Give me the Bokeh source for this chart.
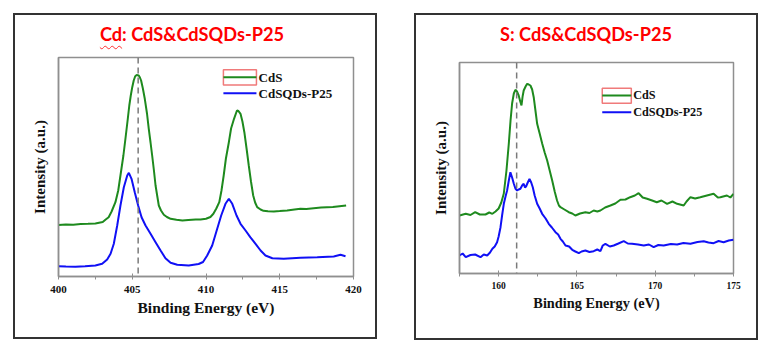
from bokeh.plotting import figure
from bokeh.layouts import row, column
from bokeh.models import Range1d, FixedTicker, Span, Div
from bokeh.core.properties import value
from bokeh.embed import file_html
from bokeh.resources import INLINE

# ---------------- Cd 3d panel data ----------------
cd_energy_cds = [400.0, 400.5, 401.0, 401.5, 402.0, 402.5, 403.0, 403.2, 403.4, 403.6, 403.86, 404.05,
                 404.2, 404.4, 404.54, 404.7, 404.8, 404.9, 405.0, 405.1, 405.2, 405.3, 405.44, 405.52,
                 405.6, 405.72, 405.85, 406.0, 406.12, 406.24, 406.35, 406.47, 406.58, 406.7, 406.8,
                 406.95, 407.14, 407.35, 407.6, 408.0, 408.4, 408.8, 409.3, 409.63, 410.0, 410.3, 410.5,
                 410.7, 410.9, 411.05, 411.2, 411.35, 411.55, 411.7, 411.9, 412.1, 412.2, 412.34, 412.47,
                 412.6, 412.75, 412.9, 413.05, 413.2, 413.33, 413.47, 413.7, 413.9, 414.2, 414.6, 415.0,
                 415.5, 416.0, 416.4, 416.8, 417.3, 417.8, 418.2, 418.6, 418.9, 419.2, 419.5]
cd_int_cds = [51.5, 52.0, 51.8, 52.5, 52.7, 53.0, 54.5, 57.0, 59.3, 65.0, 74.3, 86.0,
              101.0, 121.0, 138.0, 158.0, 171.0, 181.0, 189.3, 196.0, 200.3, 201.5, 201.0, 199.0,
              196.0, 188.0, 177.7, 163.0, 147.7, 134.0, 121.0, 106.0, 91.0, 80.0, 71.0,
              66.0, 61.7, 59.5, 57.7, 56.7, 56.0, 56.5, 57.0, 57.0, 57.7, 59.5, 62.7,
              68.0, 74.3, 86.0, 101.0, 118.0, 134.3, 148.0, 157.7, 166.0, 165.5, 162.7, 155.0,
              144.3, 128.0, 111.0, 95.0, 81.0, 74.0, 69.3, 67.0, 65.7, 65.2, 65.0, 65.4,
              66.0, 67.0, 67.7, 67.5, 68.3, 69.0, 69.3, 69.5, 70.0, 70.5, 71.0]

cd_energy_qd = [400.0, 400.5, 401.15, 401.8, 402.5, 402.96, 403.3, 403.53, 403.75, 403.98, 404.2, 404.43,
                404.66, 404.77, 404.95, 405.17, 405.4, 405.63, 405.9, 406.24, 406.58, 406.92, 407.25,
                407.6, 408.05, 408.83, 409.5, 409.8, 410.08, 410.42, 410.76, 411.03, 411.32, 411.55,
                411.78, 412.07, 412.34, 412.68, 413.0, 413.36, 413.7, 414.03, 414.5, 415.27, 416.4,
                417.54, 418.66, 419.12, 419.46]
cd_int_qd = [10.3, 10.0, 9.7, 10.3, 11.0, 12.7, 17.0, 22.7, 32.7, 51.0, 71.0, 89.3,
             101.0, 103.7, 97.7, 84.3, 71.0, 59.3, 51.0, 42.7, 34.3, 26.0, 18.3,
             13.7, 11.7, 11.0, 12.5, 14.5, 21.0, 31.0, 47.7, 61.0, 72.7, 77.7,
             72.7, 61.0, 52.7, 46.0, 39.3, 32.7, 26.0, 21.0, 18.3, 17.7, 18.7,
             19.3, 20.0, 21.7, 20.3]

cd_ticks = [400, 405, 410, 415, 420]
cd_minor_ticks = [402.5, 407.5, 412.5, 417.5]
cd_ref_energy = 405.4

# ---------------- S 2p panel data ----------------
s_energy_cds = [157.5, 157.9, 158.2, 158.5, 158.8, 159.16, 159.4, 159.6, 159.8, 160.0, 160.17, 160.33,
                160.5, 160.65, 160.76, 160.86, 160.97, 161.07, 161.17, 161.28, 161.38, 161.46, 161.53,
                161.6, 161.72, 161.82, 161.92, 162.03, 162.14, 162.24, 162.35, 162.46, 162.62, 162.78,
                162.94, 163.1, 163.26, 163.42, 163.58, 163.73, 163.85, 163.95, 164.2, 164.48, 164.7,
                164.9, 165.2, 165.54, 165.8, 166.07, 166.3, 166.5, 166.8, 167.14, 167.45, 167.78, 168.1,
                168.4, 168.7, 168.94, 169.2, 169.48, 169.8, 170.1, 170.4, 170.76, 171.1, 171.4, 171.82,
                172.0, 172.25, 172.55, 172.88, 173.3, 173.73, 174.0, 174.16, 174.58, 174.8, 175.0]
s_int_cds = [58.0, 59.7, 58.5, 61.3, 59.0, 59.0, 61.0, 59.7, 62.0, 65.0, 71.0, 80.0,
             103.0, 130.0, 153.0, 170.0, 180.0, 183.7, 182.0, 178.0, 172.0, 168.0, 177.0,
             183.0, 187.0, 189.7, 189.0, 188.0, 184.0, 176.3, 163.0, 149.7, 140.0, 130.0,
             121.0, 113.0, 103.0, 93.0, 82.0, 73.0, 68.0, 66.3, 64.0, 61.3, 60.0,
             58.0, 60.0, 61.3, 60.5, 63.0, 62.0, 63.0, 66.0, 68.0, 70.0, 73.7, 74.0,
             76.3, 78.0, 80.3, 76.0, 74.7, 73.0, 71.3, 73.0, 69.7, 72.0, 69.7, 68.0,
             72.0, 76.3, 75.0, 76.3, 78.0, 79.7, 76.0, 76.3, 78.0, 76.0, 79.7]

s_energy_qd = [157.5, 157.7, 157.9, 158.2, 158.5, 158.84, 159.05, 159.27, 159.45, 159.6, 159.75, 159.9,
               160.0, 160.12, 160.22, 160.33, 160.44, 160.54, 160.65, 160.75, 160.86, 160.97, 161.07,
               161.18, 161.28, 161.39, 161.5, 161.6, 161.68, 161.75, 161.86, 161.97, 162.08, 162.18,
               162.3, 162.46, 162.62, 162.78, 163.0, 163.2, 163.4, 163.63, 163.8, 163.95, 164.1,
               164.27, 164.5, 164.7, 164.9, 165.12, 165.3, 165.54, 165.8, 166.07, 166.3, 166.5,
               166.65, 166.82, 167.1, 167.35, 167.65, 167.99, 168.25, 168.52, 168.9, 169.27, 169.6,
               169.9, 170.2, 170.54, 171.0, 171.4, 171.8, 172.25, 172.7, 173.1, 173.4, 173.73,
               174.05, 174.37, 174.7, 175.0]
s_int_qd = [18.0, 20.0, 16.3, 18.5, 19.0, 16.3, 19.0, 18.0, 21.0, 24.7, 27.0, 31.3,
            37.0, 46.3, 58.0, 69.7, 77.0, 83.0, 93.0, 101.3, 96.0, 89.7, 85.0,
            83.0, 84.0, 84.7, 88.0, 89.7, 86.0, 87.0, 91.0, 94.7, 91.0, 86.3,
            78.0, 69.7, 65.0, 59.7, 55.0, 49.7, 46.0, 41.3, 39.0, 34.7, 32.0,
            28.0, 27.0, 23.7, 22.0, 20.3, 22.0, 23.0, 21.5, 22.3, 24.0, 22.3,
            28.0, 29.7, 27.0, 28.0, 30.0, 32.3, 30.0, 29.7, 29.0, 28.0, 29.0,
            26.3, 28.5, 28.0, 29.5, 29.0, 30.5, 29.7, 31.5, 32.3, 31.0, 30.3,
            32.5, 31.3, 33.0, 33.7]

s_ticks = [160, 165, 170, 175]
s_minor_ticks = [157.5, 162.5, 167.5, 172.5]
s_ref_energy = 161.15

series_names = ["CdS", "CdSQDs-P25"]
cd_title_html = ('<span style="text-decoration: underline wavy #ff3030; '
                 'text-decoration-thickness: 1px; text-underline-offset: 4px;">Cd</span>'
                 ': CdS&amp;CdSQDs-P25')
s_title_html = 'S: CdS&amp;CdSQDs-P25'

GREEN = "#1e8a1e"
BLUE = "#1010f5"
FRAME = "#8f8f8f"
SERIF = "Liberation Serif"
PANEL_STYLE = {"outline": "2px solid #333333", "outline-offset": "0px", "background-color": "white"}


def make_title(html, W, H, pad_right):
    return Div(text=html, width=W, height=H, margin=0,
               styles={"font-family": "Lato", "font-weight": "bold", "font-size": "18.2px",
                       "color": "#ff0000", "text-align": "center", "line-height": "38px",
                       "padding-right": f"{pad_right}px", "box-sizing": "border-box",
                       "white-space": "nowrap"})


def make_plot(xr, yr, ticks, minor, e1, i1, e2, i2, ref,
              W, H, bl, bt, fw, fh, tick_fs, tick_standoff, xlab_fs, ylab_fs, leg, leg_fs):
    p = figure(width=W, height=H, x_range=Range1d(*xr), y_range=Range1d(*yr),
               output_backend="svg", toolbar_location=None,
               min_border_left=bl, min_border_top=bt,
               min_border_right=W - bl - fw, min_border_bottom=H - bt - fh, margin=0)
    p.grid.visible = False
    p.background_fill_color = "white"
    p.border_fill_color = "white"
    p.outline_line_color = FRAME
    p.outline_line_width = 1.5

    # x axis
    xa = p.xaxis[0]
    xa.ticker = FixedTicker(ticks=ticks, minor_ticks=minor)
    xa.axis_label = "Binding Energy (eV)"
    xa.axis_label_text_font = SERIF
    xa.axis_label_text_font_style = "bold"
    xa.axis_label_text_font_size = f"{xlab_fs}px"
    xa.axis_label_text_color = "#111111"
    xa.axis_label_standoff = 3
    xa.major_label_text_font = SERIF
    xa.major_label_text_font_style = "bold"
    xa.major_label_text_font_size = f"{tick_fs}px"
    xa.major_label_text_color = "#111111"
    xa.major_label_standoff = tick_standoff
    xa.axis_line_color = FRAME
    xa.axis_line_width = 1.5
    xa.major_tick_line_color = FRAME
    xa.major_tick_in = 3
    xa.major_tick_out = 3
    xa.minor_tick_line_color = FRAME
    xa.minor_tick_in = 0
    xa.minor_tick_out = 3

    # y axis: label only
    ya = p.yaxis[0]
    ya.ticker = FixedTicker(ticks=[])
    ya.axis_label = "Intensity (a.u.)"
    ya.axis_label_text_font = SERIF
    ya.axis_label_text_font_style = "bold"
    ya.axis_label_text_font_size = f"{ylab_fs}px"
    ya.axis_label_text_color = "#111111"
    ya.axis_label_standoff = 11
    ya.major_tick_out = 0
    ya.major_tick_in = 0
    ya.minor_tick_out = 0
    ya.major_label_standoff = 0
    ya.axis_line_color = FRAME
    ya.axis_line_width = 1.5

    # curves
    p.line(e1, i1, line_color=GREEN, line_width=2)
    p.line(e2, i2, line_color=BLUE, line_width=2)

    # reference dashed line
    p.add_layout(Span(location=ref, dimension="height", line_color="#7a7a7a",
                      line_dash="6 4", line_width=1.5))

    # legend (positions as fractions of the frame)
    fx = lambda f: xr[0] + f * (xr[1] - xr[0])
    fy = lambda f: yr[0] + f * (yr[1] - yr[0])
    bx0, bx1, by_top, by_bot, gy, qy, lx = leg
    p.quad(left=[fx(bx0)], right=[fx(bx1)], top=[fy(by_top)], bottom=[fy(by_bot)],
           fill_color=None, line_color="#f07a7a", line_width=1.5)
    p.segment(x0=[fx(bx0)], x1=[fx(bx1)], y0=[fy(gy)], y1=[fy(gy)], line_color=GREEN, line_width=2)
    p.segment(x0=[fx(bx0)], x1=[fx(bx1)], y0=[fy(qy)], y1=[fy(qy)], line_color=BLUE, line_width=2)
    p.text(x=[fx(lx), fx(lx)], y=[fy(gy), fy(qy)], text=series_names,
           text_font=value(SERIF), text_font_style="bold", text_font_size=value(f"{leg_fs}px"),
           text_baseline="middle", text_align="left", text_color="#111111")
    return p


# left panel: box 360 x 322, title strip 40, plot 282
t1 = make_title(cd_title_html, 360, 40, 6)
p1 = make_plot((400, 420), (0, 219), cd_ticks, cd_minor_ticks,
               cd_energy_cds, cd_int_cds, cd_energy_qd, cd_int_qd, cd_ref_energy,
               W=360, H=282, bl=43, bt=2, fw=295, fh=219,
               tick_fs=11, tick_standoff=6, xlab_fs=15.5, ylab_fs=15,
               leg=(0.559, 0.671, 0.944, 0.875, 0.910, 0.837, 0.678), leg_fs=13)

# right panel: box 340 x 323, title strip 45, plot 278
t2 = make_title(s_title_html, 340, 45, 0)
p2 = make_plot((157.5, 175), (0, 211), s_ticks, s_minor_ticks,
               s_energy_cds, s_int_cds, s_energy_qd, s_int_qd, s_ref_energy,
               W=340, H=278, bl=43, bt=2, fw=274, fh=211,
               tick_fs=9.5, tick_standoff=5, xlab_fs=14.3, ylab_fs=15,
               leg=(0.521, 0.627, 0.878, 0.807, 0.844, 0.764, 0.634), leg_fs=12.2)

panel1 = column(t1, p1, spacing=0, margin=0, styles=PANEL_STYLE)
panel2 = column(t2, p2, spacing=0, margin=0, styles=PANEL_STYLE)
layout = row(panel1, panel2, spacing=41, margin=(15, 0, 0, 15))

open("out.html", "w").write(file_html(layout, INLINE))
